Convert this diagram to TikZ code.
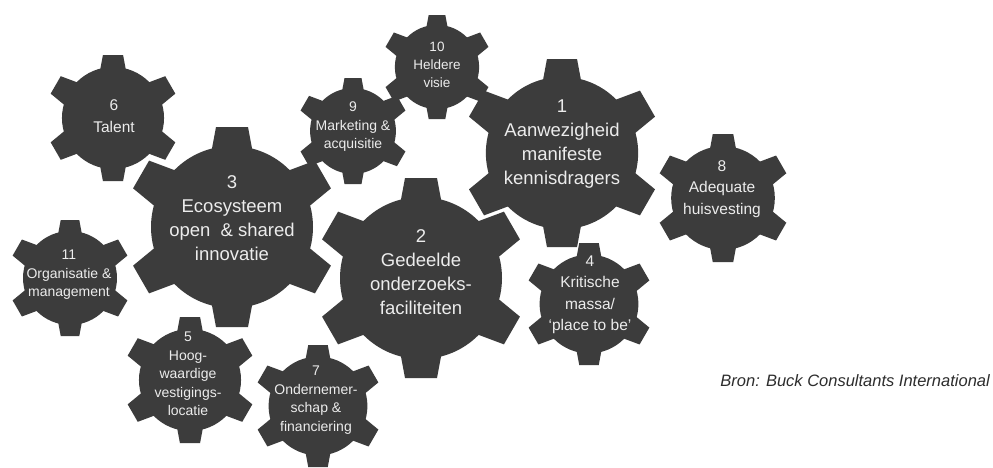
\documentclass[tikz,border=0pt]{standalone}
\usepackage{fontspec}
\setmainfont{Liberation Sans}
\definecolor{gearfill}{RGB}{60,60,60}
\definecolor{geartext}{RGB}{236,236,236}
\definecolor{srctext}{RGB}{45,45,45}
% cogwheel with six teeth: centre (#1,#2), tip radius #3
\newcommand{\cogwheel}[3]{%
  \fill[gearfill] (#1,#2) circle[radius=0.81*#3];
  \foreach \ang/\len in {30/1.05, 90/1, 150/1.05, 210/1.05, 270/1, 330/1.05}{%
    \fill[gearfill,shift={(#1,#2)},rotate=\ang]
      (0.6*#3,-0.235*#3) -- (\len*#3,-0.16*#3) -- (\len*#3,0.16*#3) -- (0.6*#3,0.235*#3) -- cycle;
  }%
}
\tikzset{
  gearlabel/.style={text=geartext, align=center, inner sep=0pt},
  biglabel/.style={gearlabel, font=\fontsize{18.5}{24}\selectfont},
  midlabel/.style={gearlabel, font=\fontsize{15.5}{21.5}\selectfont},
  smalllabel/.style={gearlabel, font=\fontsize{14}{18.5}\selectfont},
  tinylabel/.style={gearlabel, font=\fontsize{13.5}{18}\selectfont},
}
\begin{document}
\begin{tikzpicture}[x=1pt, y=-1pt]
  \useasboundingbox (0,0) rectangle (993,467);
  \fill[white] (0,0) rectangle (993,467);

  % wheels
  \cogwheel{562}{153}{94}
  \cogwheel{421}{278}{100}
  \cogwheel{232}{227}{100}
  \cogwheel{589}{304}{61}
  \cogwheel{190}{380}{63}
  \cogwheel{113}{118}{63}
  \cogwheel{318}{406}{61}
  \cogwheel{723}{198}{64}
  \cogwheel{353}{131}{53}
  \cogwheel{437}{67}{52}
  \cogwheel{70}{278}{58}

  % labels
  \node[biglabel]   (f1)  at (562,144) {1\\Aanwezigheid\\manifeste\\kennisdragers};
  \node[biglabel]   (f2)  at (421,272) {2\\Gedeelde\\onderzoeks-\\faciliteiten};
  \node[biglabel]   (f3)  at (232,218) {3\\Ecosysteem\\open \ \& shared\\innovatie};
  \node[midlabel]   (f4)  at (590,295) {4\\Kritische\\massa/\\‘place to be’};
  \node[smalllabel] (f5)  at (188,374) {5\\Hoog-\\waardige\\vestigings-\\locatie};
  \node[midlabel]   (f6)  at (114,116) {6\\Talent};
  \node[smalllabel] (f7)  at (316,400) {7\\Ondernemer-\\schap \&\\financiering};
  \node[midlabel]   (f8)  at (722,189) {8\\Adequate\\huisvesting};
  \node[smalllabel] (f9)  at (353,127) {9\\Marketing \&\\acquisitie};
  \node[tinylabel]  (f10) at (437,65)  {10\\Heldere\\visie};
  \node[smalllabel] (f11) at (69,275)  {11\\Organisatie \&\\management};

  % source line
  \node[text=srctext, inner sep=0pt, anchor=east,
        font=\fontsize{16.5}{20}\selectfont\itshape] (src) at (990,381)
        {Bron: Buck Consultants International};
\end{tikzpicture}
\end{document}
